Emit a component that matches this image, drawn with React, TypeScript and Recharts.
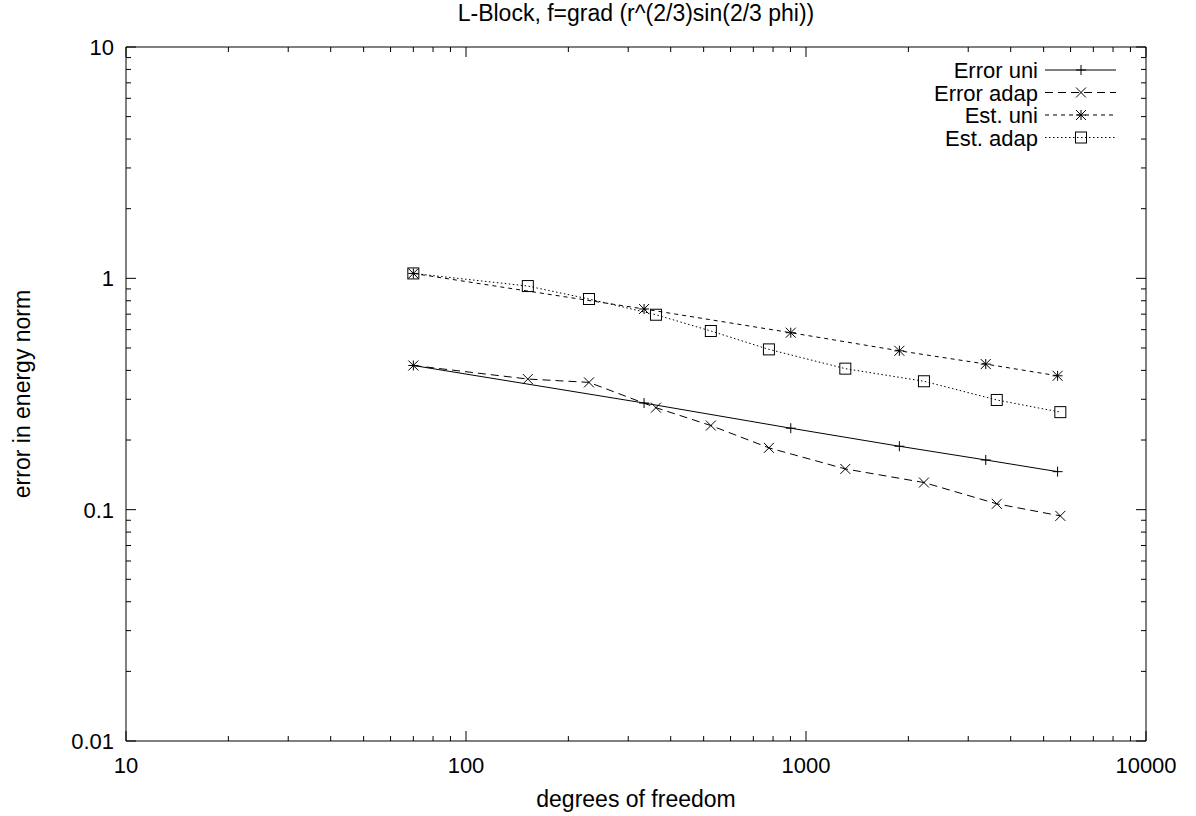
import React from 'react';
import { Legend, Line, LineChart, XAxis, YAxis } from 'recharts';

// degrees of freedom / error values
const uniDofs = [70, 334, 902, 1882, 3378, 5495];
const errorUni = [0.42, 0.289, 0.225, 0.188, 0.164, 0.146];
const estUni = [1.05, 0.737, 0.582, 0.486, 0.426, 0.379];

const adapDofs = [70, 152, 230, 362, 525, 778, 1305, 2223, 3640, 5598];
const errorAdap = [0.42, 0.367, 0.355, 0.276, 0.231, 0.185, 0.15, 0.131, 0.106, 0.094];
const estAdap = [1.05, 0.926, 0.814, 0.696, 0.592, 0.493, 0.407, 0.359, 0.298, 0.264];

const seriesNames = ['Error uni', 'Error adap', 'Est. uni', 'Est. adap'];

const xTicks = [
  10, 20, 30, 40, 50, 60, 70, 80, 90,
  100, 200, 300, 400, 500, 600, 700, 800, 900,
  1000, 2000, 3000, 4000, 5000, 6000, 7000, 8000, 9000,
  10000
];
const xMajor = [10, 100, 1000, 10000];
const yTicks = [
  0.01, 0.02, 0.03, 0.04, 0.05, 0.06, 0.07, 0.08, 0.09,
  0.1, 0.2, 0.3, 0.4, 0.5, 0.6, 0.7, 0.8, 0.9,
  1, 2, 3, 4, 5, 6, 7, 8, 9,
  10
];
const yMajor = [0.01, 0.1, 1, 10];

const toPoints = (xs: number[], ys: number[]) => xs.map((dof, i) => ({ dof, value: ys[i] }));

const FONT = '"Liberation Sans", Arial, Helvetica, sans-serif';
const TICK_FONT = 22;
const TEXT_FONT = 23;
const MAJOR_LEN = 10;
const MINOR_LEN = 5;

const series = [
  { name: seriesNames[0], data: toPoints(uniDofs, errorUni), dash: undefined, marker: 'plus' },
  { name: seriesNames[1], data: toPoints(adapDofs, errorAdap), dash: '8 5', marker: 'cross' },
  { name: seriesNames[2], data: toPoints(uniDofs, estUni), dash: '4 4', marker: 'star' },
  { name: seriesNames[3], data: toPoints(adapDofs, estAdap), dash: '1.5 2.5', marker: 'box' }
];

function Marker({ cx, cy, type }: { cx: number; cy: number; type: string }) {
  const s = 5;
  const plus = (
    <>
      <line x1={cx - s} y1={cy} x2={cx + s} y2={cy} />
      <line x1={cx} y1={cy - s} x2={cx} y2={cy + s} />
    </>
  );
  const cross = (
    <>
      <line x1={cx - s} y1={cy - s} x2={cx + s} y2={cy + s} />
      <line x1={cx - s} y1={cy + s} x2={cx + s} y2={cy - s} />
    </>
  );
  return (
    <g stroke="#000" strokeWidth={1} fill="none">
      {type === 'plus' && plus}
      {type === 'cross' && cross}
      {type === 'star' && (
        <>
          {plus}
          {cross}
        </>
      )}
      {type === 'box' && <rect x={cx - 5.5} y={cy - 5.5} width={11} height={11} />}
    </g>
  );
}

// ticks point inward, gnuplot style; labels only on the decades
function BottomTick(props: any) {
  const { x, y, payload } = props;
  const major = xMajor.includes(payload.value);
  return (
    <g>
      <line x1={x} y1={y} x2={x} y2={y - (major ? MAJOR_LEN : MINOR_LEN)} stroke="#000" />
      {major && (
        <text x={x} y={y + 32} textAnchor="middle" fontSize={TICK_FONT} fontFamily={FONT} fill="#000">
          {payload.value}
        </text>
      )}
    </g>
  );
}

function TopTick(props: any) {
  const { x, y, payload } = props;
  const major = xMajor.includes(payload.value);
  return <line x1={x} y1={y} x2={x} y2={y + (major ? MAJOR_LEN : MINOR_LEN)} stroke="#000" />;
}

function LeftTick(props: any) {
  const { x, y, payload } = props;
  const major = yMajor.includes(payload.value);
  return (
    <g>
      <line x1={x} y1={y} x2={x + (major ? MAJOR_LEN : MINOR_LEN)} y2={y} stroke="#000" />
      {major && (
        <text x={x - 12} y={y + 8} textAnchor="end" fontSize={TICK_FONT} fontFamily={FONT} fill="#000">
          {String(payload.value)}
        </text>
      )}
    </g>
  );
}

function RightTick(props: any) {
  const { x, y, payload } = props;
  const major = yMajor.includes(payload.value);
  return <line x1={x} y1={y} x2={x - (major ? MAJOR_LEN : MINOR_LEN)} y2={y} stroke="#000" />;
}

function XTitle(props: any) {
  const { x, y, width } = props.viewBox;
  return (
    <text x={x + width / 2} y={y + 66} textAnchor="middle" fontSize={TEXT_FONT} fontFamily={FONT} fill="#000">
      degrees of freedom
    </text>
  );
}

function PlotTitle(props: any) {
  const { x, y, width, height } = props.viewBox;
  return (
    <text x={x + width / 2} y={y + height - 26} textAnchor="middle" fontSize={TEXT_FONT} fontFamily={FONT} fill="#000">
      L-Block, f=grad (r^(2/3)sin(2/3 phi))
    </text>
  );
}

function YTitle(props: any) {
  const { x, y, width, height } = props.viewBox;
  const tx = x + width - 96;
  const ty = y + height / 2;
  return (
    <text
      x={tx}
      y={ty}
      transform={`rotate(-90, ${tx}, ${ty})`}
      textAnchor="middle"
      fontSize={TEXT_FONT}
      fontFamily={FONT}
      fill="#000"
    >
      error in energy norm
    </text>
  );
}

const LEGEND_LEFT = 900;
const LEGEND_TOP = 50;

function KeyBox() {
  return (
    <svg width={240} height={110} style={{ display: 'block', overflow: 'visible' }}>
      {series.map((s, i) => {
        const cy = 20 + i * 22.5;
        return (
          <g key={s.name}>
            <text x={138} y={cy + 8} textAnchor="end" fontSize={22} fontFamily={FONT} fill="#000">
              {s.name}
            </text>
            <line x1={145} y1={cy} x2={216} y2={cy} stroke="#000" strokeWidth={1} strokeDasharray={s.dash} />
            <Marker cx={181} cy={cy} type={s.marker} />
          </g>
        );
      })}
    </svg>
  );
}

const axisLine = { stroke: '#000', strokeWidth: 1 };

export default function App() {
  return (
    <div style={{ position: 'absolute', left: 0, top: 0, width: 1196, height: 816, background: '#fff' }}>
      <LineChart width={1196} height={816} margin={{ top: 46, right: 49, bottom: 74, left: 125 }}>
        <XAxis
          xAxisId="bottom"
          type="number"
          dataKey="dof"
          scale="log"
          domain={[10, 10000]}
          allowDataOverflow
          ticks={xTicks}
          interval={0}
          tickLine={false}
          tickSize={0}
          tickMargin={0}
          height={1}
          axisLine={axisLine}
          tick={<BottomTick />}
          label={<XTitle />}
        />
        <XAxis
          xAxisId="top"
          orientation="top"
          type="number"
          dataKey="dof"
          scale="log"
          domain={[10, 10000]}
          allowDataOverflow
          ticks={xTicks}
          interval={0}
          tickLine={false}
          tickSize={0}
          tickMargin={0}
          height={1}
          axisLine={axisLine}
          tick={<TopTick />}
          label={<PlotTitle />}
        />
        <YAxis
          yAxisId="left"
          type="number"
          scale="log"
          domain={[0.01, 10]}
          allowDataOverflow
          ticks={yTicks}
          interval={0}
          tickLine={false}
          tickSize={0}
          tickMargin={0}
          width={1}
          axisLine={axisLine}
          tick={<LeftTick />}
          label={<YTitle />}
        />
        <YAxis
          yAxisId="right"
          orientation="right"
          type="number"
          scale="log"
          domain={[0.01, 10]}
          allowDataOverflow
          ticks={yTicks}
          interval={0}
          tickLine={false}
          tickSize={0}
          tickMargin={0}
          width={1}
          axisLine={axisLine}
          tick={<RightTick />}
        />
        <Legend
          layout="vertical"
          align="center"
          verticalAlign="middle"
          wrapperStyle={{ position: 'absolute', left: LEGEND_LEFT, top: LEGEND_TOP, width: 240, height: 110 }}
          content={() => <KeyBox />}
        />
        {series.map((s) => (
          <Line
            key={s.name}
            xAxisId="bottom"
            yAxisId="left"
            data={s.data}
            dataKey="value"
            name={s.name}
            type="linear"
            stroke="#000"
            strokeWidth={1}
            strokeDasharray={s.dash}
            isAnimationActive={false}
            dot={(p: any) => <Marker key={`${s.name}-${p.index}`} cx={p.cx} cy={p.cy} type={s.marker} />}
            activeDot={false}
          />
        ))}
      </LineChart>
    </div>
  );
}
